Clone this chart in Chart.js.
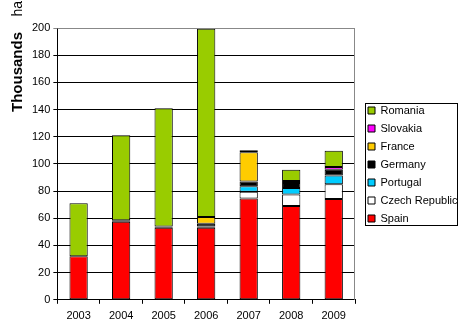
<!DOCTYPE html>
<html lang="en">
<head>
    <meta charset="UTF-8">
    <title>Area by country</title>
    <script src="https://cdn.jsdelivr.net/npm/chart.js"></script>
    <style>
        html, body { margin: 0; padding: 0; background: #fff; }
        #wrap { width: 461px; height: 329px; }
    </style>
</head>
<body>
<div id="wrap">
    <canvas id="areaChart" width="461" height="329"></canvas>
</div>

<script>
    const years = ['2003', '2004', '2005', '2006', '2007', '2008', '2009'];

    // thousands of ha, bottom of the stack first
    const spain    = [32, 57.5, 53, 53, 74.5, 69, 74.2];
    const czech    = [null, null, null, null, 5, 8.4, 10.8];
    const portugal = [null, null, null, 1, 4, 4.9, 6.4];
    const germany  = [null, 1, 1, 2, 3.5, 3.7, 4.3];
    const france   = [null, null, null, 5, 21.5, null, null];
    const slovakia = [null, null, null, null, null, 1.4, 2];
    const romania  = [39, 62.5, 87, 138.5, 1.5, 8.3, 12];

    const yTicks = [0, 20, 40, 60, 80, 100, 120, 140, 160, 180, 200];

    function series(label, data, color) {
        return {
            label: label,
            data: data,
            backgroundColor: color,
            borderColor: '#000',
            borderWidth: 1,
            borderSkipped: false,
            barPercentage: 0.43,
            categoryPercentage: 1
        };
    }

    // framed legend box
    const legendBox = { left: 365, top: 103, right: 458, bottom: 226 };

    const frame = {
        id: 'frame',
        afterLayout(chart) {
            const lg = chart.legend;
            if (!lg) return;
            // centre the items on the box, leave room so nothing wraps
            const mid = (legendBox.top + legendBox.bottom) / 2;
            lg.left = legendBox.left - 4;
            lg.right = 461;
            lg.top = mid - 85;
            lg.bottom = mid + 85;
            lg.width = lg.right - lg.left;
            lg.height = lg.bottom - lg.top;
        },
        afterDraw(chart) {
            const ctx = chart.ctx;
            const area = chart.chartArea;
            ctx.save();
            // grey frame on top and right of the plot
            ctx.strokeStyle = '#888';
            ctx.lineWidth = 1;
            ctx.beginPath();
            ctx.moveTo(area.left, area.top + 0.5);
            ctx.lineTo(area.right - 0.5, area.top + 0.5);
            ctx.lineTo(area.right - 0.5, area.bottom);
            ctx.stroke();

            ctx.strokeStyle = '#000';
            ctx.strokeRect(legendBox.left + 0.5, legendBox.top + 0.5,
                legendBox.right - legendBox.left - 1, legendBox.bottom - legendBox.top - 1);

            // axis title, rotated
            ctx.translate(22, 0);
            ctx.rotate(-Math.PI / 2);
            ctx.fillStyle = '#000';
            ctx.textAlign = 'right';
            ctx.textBaseline = 'alphabetic';
            ctx.font = 'bold 15px Arial, "Liberation Sans", sans-serif';
            ctx.fillText('Thousands', -32, 0);
            ctx.font = '14px Arial, "Liberation Sans", sans-serif';
            ctx.fillText('ha', -1, 0);
            ctx.restore();
        }
    };

    new Chart(document.getElementById('areaChart'), {
        type: 'bar',
        data: {
            labels: years,
            datasets: [
                series('Spain', spain, '#FF0000'),
                series('Czech Republic', czech, '#FFFFFF'),
                series('Portugal', portugal, '#00CCFF'),
                series('Germany', germany, '#000000'),
                series('France', france, '#FFCC00'),
                series('Slovakia', slovakia, '#FF00FF'),
                series('Romania', romania, '#99CC00')
            ]
        },
        options: {
            responsive: false,
            animation: false,
            layout: {
                padding: { left: 29, top: 28, right: 2, bottom: 0 }
            },
            plugins: {
                tooltip: { enabled: false },
                legend: {
                    position: 'right',
                    reverse: true,
                    maxWidth: 104,
                    labels: {
                        boxWidth: 7,
                        boxHeight: 7,
                        padding: 7,
                        color: '#000',
                        font: { family: 'Arial, "Liberation Sans", sans-serif', size: 11 }
                    }
                }
            },
            scales: {
                x: {
                    stacked: true,
                    offset: true,
                    grid: {
                        display: true,
                        drawOnChartArea: false,
                        offset: true,
                        color: '#000',
                        tickLength: 4
                    },
                    border: { color: '#000', width: 1 },
                    ticks: {
                        color: '#000',
                        padding: 6,
                        font: { family: 'Arial, "Liberation Sans", sans-serif', size: 11 }
                    }
                },
                y: {
                    stacked: true,
                    min: 0,
                    max: 200,
                    afterBuildTicks(scale) {
                        scale.ticks = yTicks.map(v => ({ value: v }));
                    },
                    grid: {
                        color: ctx => ctx.tick && ctx.tick.value === 200 ? '#888' : '#000',
                        tickLength: 4,
                        lineWidth: 1
                    },
                    border: { color: '#000', width: 1 },
                    ticks: {
                        color: '#000',
                        padding: 3,
                        font: { family: 'Arial, "Liberation Sans", sans-serif', size: 11 }
                    }
                }
            }
        },
        plugins: [frame]
    });
</script>
</body>
</html>
